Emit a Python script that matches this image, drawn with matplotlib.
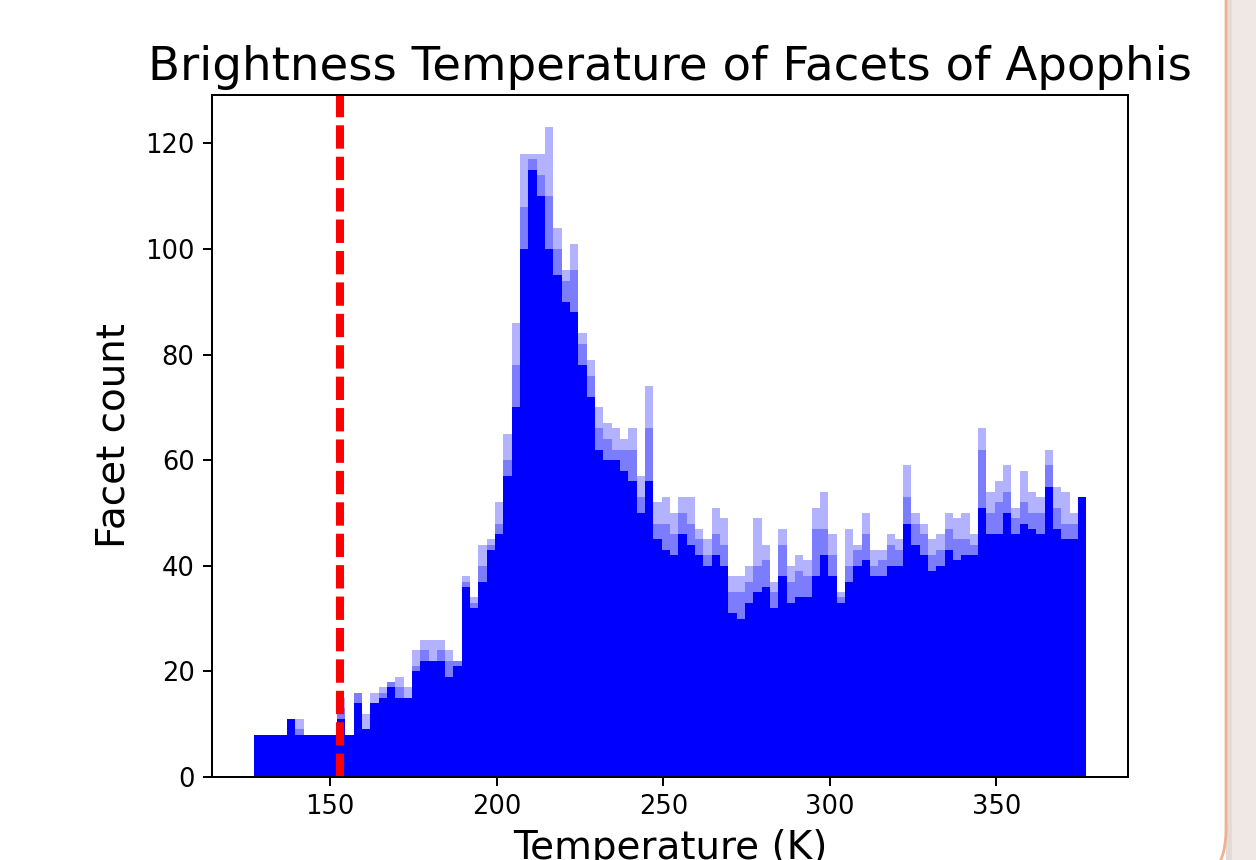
import matplotlib
matplotlib.use("Agg")
import matplotlib.pyplot as plt
import numpy as np
from matplotlib.patches import FancyBboxPatch, Rectangle
from matplotlib.transforms import IdentityTransform

# ---- data -------------------------------------------------------------
bin_start = 127.0      # K, left edge of first bin
bin_width = 2.5        # K
threshold_T = 153.0    # K, red dashed line

# upper envelope (lightest overlay)
counts_max = [8, 8, 8, 8, 11, 11, 8, 8, 8, 8,
              15, 8, 16, 12, 16, 17, 18, 19, 17, 24,
              26, 26, 26, 24, 22, 38, 34, 44, 45, 52,
              65, 86, 118, 118, 118, 123, 104, 96, 101, 84,
              79, 70, 67, 66, 64, 66, 57, 74, 52, 53,
              50, 53, 53, 47, 45, 51, 49, 38, 38, 40,
              49, 44, 37, 47, 40, 42, 41, 51, 54, 46,
              35, 47, 44, 50, 43, 43, 46, 45, 59, 50,
              48, 45, 46, 50, 49, 50, 46, 66, 54, 56,
              59, 51, 58, 54, 53, 62, 55, 54, 50, 53]
# middle overlay
counts_mid = [8, 8, 8, 8, 11, 9, 8, 8, 8, 8,
              13, 8, 16, 9, 14, 16, 18, 17, 15, 21,
              24, 22, 24, 22, 22, 37, 33, 40, 44, 48,
              60, 78, 108, 117, 114, 110, 100, 94, 96, 82,
              76, 66, 64, 62, 62, 62, 53, 66, 48, 48,
              46, 50, 48, 45, 42, 46, 44, 35, 35, 37,
              40, 41, 35, 44, 37, 39, 38, 47, 47, 42,
              34, 40, 43, 46, 40, 41, 44, 43, 53, 48,
              46, 42, 43, 47, 45, 45, 44, 62, 50, 52,
              54, 49, 52, 50, 50, 59, 51, 48, 48, 53]
# fully saturated core
counts_min = [8, 8, 8, 8, 11, 8, 8, 8, 8, 8,
              11, 8, 14, 9, 14, 15, 17, 15, 15, 20,
              22, 22, 22, 19, 21, 36, 32, 37, 43, 46,
              57, 70, 100, 115, 110, 100, 95, 90, 88, 78,
              72, 62, 60, 60, 58, 56, 50, 56, 45, 43,
              42, 46, 44, 42, 40, 42, 40, 31, 30, 33,
              35, 36, 32, 38, 33, 34, 34, 38, 42, 38,
              33, 37, 40, 41, 38, 38, 40, 40, 48, 44,
              42, 39, 40, 43, 41, 42, 42, 51, 46, 46,
              50, 46, 48, 47, 46, 55, 47, 45, 45, 53]

title = "Brightness Temperature of Facets of Apophis"
xlabel = "Temperature (K)"
ylabel = "Facet count"

# ---- figure -------------------------------------------------------------
W, H = 1256, 860
fig = plt.figure(figsize=(W / 100, H / 100), dpi=100)
fig.patch.set_facecolor("white")

# page background strip and card edge on the right
fig.patches.append(Rectangle((1226, -10), 60, H + 20, transform=IdentityTransform(),
                             facecolor="#efe8e5", edgecolor="none", zorder=-3))
fig.patches.append(Rectangle((1226, -10), 6, H + 20, transform=IdentityTransform(),
                             facecolor="#e3dbd8", edgecolor="none", zorder=-3))
fig.patches.append(FancyBboxPatch((-60, -30), 1286, H + 100,
                                  boxstyle="round,pad=0,rounding_size=60",
                                  transform=IdentityTransform(),
                                  facecolor="white", edgecolor="#f2b08c",
                                  linewidth=2.0, zorder=-2))

ax = fig.add_axes([212 / W, 83 / H, 916 / W, 682 / H])

n = len(counts_max)
edges = bin_start + bin_width * np.arange(n + 1)
lefts = edges[:-1]

ax.bar(lefts, counts_max, width=bin_width, align="edge", color="blue",
       alpha=0.3, linewidth=0)
ax.bar(lefts, counts_mid, width=bin_width, align="edge", color="blue",
       alpha=0.3, linewidth=0)
ax.bar(lefts, counts_min, width=bin_width, align="edge", color="blue",
       alpha=1.0, linewidth=0)

ax.axvline(threshold_T, color="red", linewidth=5.8, linestyle=(0, (2.9, 1.0)))

ax.set_xlim(114.5, 389.5)
ax.set_ylim(0, 129.15)
ax.set_xticks([150, 200, 250, 300, 350])
ax.set_yticks([0, 20, 40, 60, 80, 100, 120])

ax.set_title(title, fontsize=33.6, pad=10.8)
ax.set_xlabel(xlabel, fontsize=28, labelpad=6)
ax.set_ylabel(ylabel, fontsize=28, labelpad=9)
ax.tick_params(labelsize=18.5, length=6.3, width=1.44, pad=6.3)
for s in ax.spines.values():
    s.set_linewidth(1.44)

fig.savefig("out.png", dpi=100, facecolor=fig.get_facecolor())
